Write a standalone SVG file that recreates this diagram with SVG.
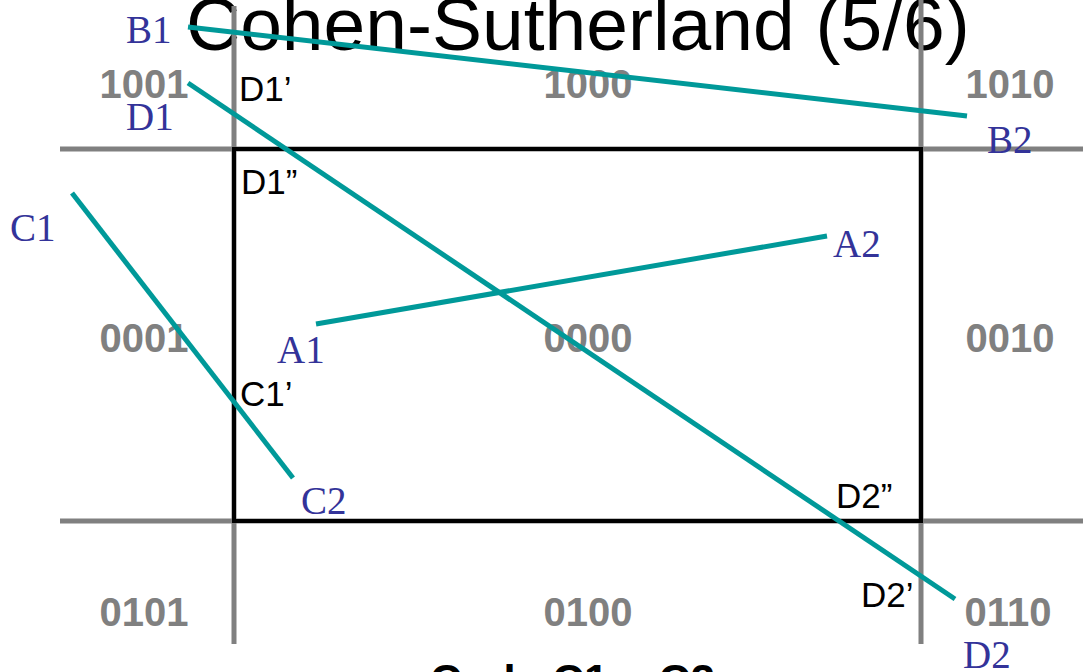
<svg xmlns="http://www.w3.org/2000/svg" width="1083" height="672" viewBox="0 0 1083 672">
<style>
.title{font-family:"Liberation Sans",Arial,sans-serif;font-size:75px;fill:#000}
.code{font-family:"Liberation Sans",Arial,sans-serif;font-size:40px;font-weight:bold;fill:#808080;text-anchor:middle}
.pt{font-family:"Liberation Serif","Times New Roman",serif;font-size:39px;fill:#333399}
.ip{font-family:"Liberation Sans",Arial,sans-serif;font-size:35px;fill:#000}
.grid{stroke:#808080;stroke-width:5;fill:none}
.win{stroke:#000;stroke-width:4;fill:none}
.seg{stroke:#009999;stroke-width:5;fill:none}
.foot{font-family:"Liberation Sans",Arial,sans-serif;font-size:44px;font-weight:bold;fill:#000}
</style>
<rect width="1083" height="672" fill="#fff"/>
<g id="title"><text class="title" x="186" y="50">Cohen-Sutherland (5/6)</text></g>
<g id="codes">
<text class="code" x="144" y="98">1001</text>
<text class="code" x="588" y="98">1000</text>
<text class="code" x="1010" y="98">1010</text>
<text class="code" x="144" y="352">0001</text>
<text class="code" x="588" y="352">0000</text>
<text class="code" x="1010" y="352">0010</text>
<text class="code" x="144" y="626">0101</text>
<text class="code" x="588" y="626">0100</text>
<text class="code" x="1008" y="626">0110</text>
</g>
<g id="grid">
<line class="grid" x1="234" y1="6" x2="234" y2="644"/>
<line class="grid" x1="921" y1="0" x2="921" y2="644"/>
<line class="grid" x1="60" y1="149" x2="1083" y2="149"/>
<line class="grid" x1="60" y1="521" x2="1083" y2="521"/>
</g>
<g id="window"><rect class="win" x="234" y="149" width="687" height="372"/></g>
<g id="connectors">
<line class="seg" x1="188" y1="27" x2="967" y2="116"/>
<line class="seg" x1="188" y1="83" x2="955" y2="599"/>
<line class="seg" x1="72" y1="193" x2="293" y2="478"/>
<line class="seg" x1="316" y1="324" x2="827" y2="236"/>
</g>
<g id="labels">
<text class="pt" x="126" y="43">B1</text>
<text class="pt" x="126" y="130">D1</text>
<text class="pt" x="987" y="153">B2</text>
<text class="pt" x="10" y="241">C1</text>
<text class="pt" x="833" y="257">A2</text>
<text class="pt" x="277" y="363">A1</text>
<text class="pt" x="301" y="514">C2</text>
<text class="pt" x="963" y="668">D2</text>
<text class="ip" x="239" y="101">D1’</text>
<text class="ip" x="241" y="194">D1”</text>
<text class="ip" x="240" y="406">C1’</text>
<text class="ip" x="836" y="508">D2”</text>
<text class="ip" x="861" y="607">D2’</text>
</g>
<g id="footer"><text class="foot" x="430" y="696">Code C1 = C2</text></g>
</svg>
